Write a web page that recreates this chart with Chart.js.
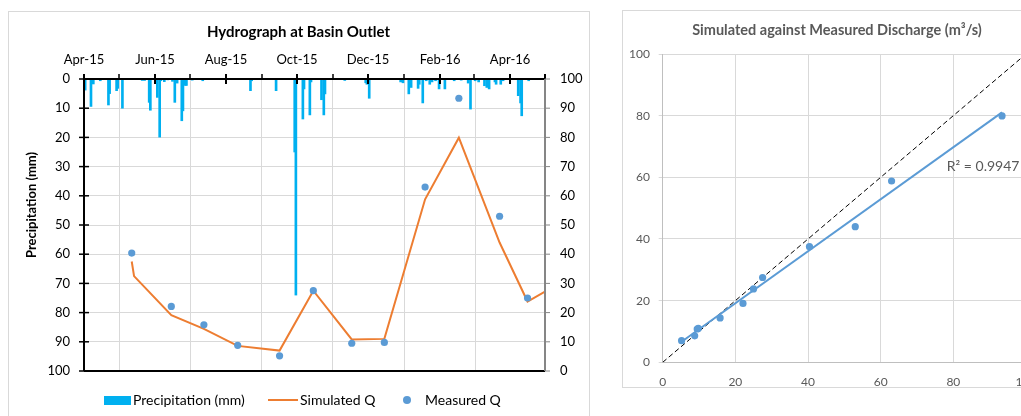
<!DOCTYPE html>
<html>
<head>
<meta charset="utf-8">
<script src="https://cdn.jsdelivr.net/npm/chart.js@4.4.1/dist/chart.umd.min.js"></script>
<style>
html,body{margin:0;padding:0;background:#fff;width:1021px;height:416px;overflow:hidden;font-family:Lato,sans-serif}
.box{position:absolute;border:1px solid #d9d9d9;box-sizing:border-box}
canvas{position:absolute}
.lg{position:absolute;font-size:14px;line-height:16px;color:#000;white-space:nowrap}
</style>
</head>
<body>
<div class="box" style="left:8px;top:11px;width:582px;height:440px"></div>
<div class="box" style="left:622px;top:10px;width:440px;height:378px"></div>
<canvas id="hydro" width="581" height="405" style="left:8px;top:11px"></canvas>
<canvas id="scat" width="430" height="377" style="left:622px;top:10px"></canvas>

<div style="position:absolute;left:104px;top:396px;width:27px;height:9px;background:#00B0F0"></div>
<div class="lg" style="left:133px;top:392px">Precipitation (mm)</div>
<div style="position:absolute;left:268px;top:399px;width:30px;height:2px;background:#ED7D31"></div>
<div class="lg" style="left:300px;top:392px">Simulated Q</div>
<div style="position:absolute;left:403px;top:396px;width:8px;height:8px;border-radius:50%;background:#5B9BD5"></div>
<div class="lg" style="left:425px;top:392px">Measured Q</div>

<script>
// daily rainfall (only rainy days)
const rainDates=['2015-04-02','2015-04-07','2015-04-08','2015-04-09','2015-04-15','2015-04-22','2015-04-23','2015-04-29','2015-04-30',
  '2015-05-04','2015-05-21','2015-05-23','2015-05-27','2015-05-28',
  '2015-06-03','2015-06-05','2015-06-06','2015-06-09','2015-06-12','2015-06-16','2015-06-18','2015-06-20','2015-06-24','2015-06-25','2015-06-27','2015-06-28',
  '2015-07-03','2015-07-12','2015-08-22','2015-08-23','2015-09-13','2015-09-29','2015-09-30',
  '2015-10-06','2015-10-07','2015-10-12','2015-10-13','2015-10-22','2015-10-24','2015-10-25',
  '2015-11-11','2015-11-29','2015-11-30','2015-12-02','2015-12-29','2015-12-31',
  '2016-01-05','2016-01-07','2016-01-13','2016-01-14','2016-01-17','2016-01-20','2016-01-23','2016-01-25','2016-01-28','2016-01-31',
  '2016-02-05','2016-02-13','2016-02-19','2016-02-25','2016-02-27',
  '2016-03-02','2016-03-05','2016-03-10','2016-03-12','2016-03-14','2016-03-19','2016-03-20','2016-03-24','2016-03-26',
  '2016-04-08','2016-04-10','2016-04-11','2016-04-17']
const rainMm=[3.8,9.4,1.4,1.7,0.6,8.9,5,4.0,3.2,
  10.0,0.5,0.5,8.0,10.7,
  6.3,19.9,0.6,0.9,0.3,0.8,8.0,1.4,14.3,10.9,2.2,2.2,
  0.4,0.6,4.0,0.6,4.0,25,74,
  13.7,3.4,12.3,1.0,7.1,12.3,5.1,
  0.5,1.3,1.8,6.6,1.0,1.3,
  5.1,2.9,3.2,1.8,8.2,0.6,1.8,1.0,0.6,3.4,
  3.4,0.6,0.4,1.4,10.3,
  0.6,1.0,2.3,2.9,3.4,1.0,1.8,1.8,0.6,
  5.7,8.2,12.6,0.6]

const simDates=['2015-05-12','2015-05-14','2015-06-15','2015-07-13','2015-08-11','2015-09-16','2015-10-15','2015-11-17','2015-12-15','2016-01-19','2016-02-17','2016-03-23','2016-04-16','2016-05-01']
const simQ=[37.5,32.5,19.1,14.4,8.6,7.0,27.5,10.8,11.0,58.8,79.9,44.0,23.8,27.2]

const measDates=['2015-05-12','2015-06-15','2015-07-13','2015-08-11','2015-09-16','2015-10-15','2015-11-17','2015-12-15','2016-01-19','2016-02-17','2016-03-23','2016-04-16']
const measQ=[40.4,22.1,15.8,8.8,5.2,27.5,9.5,9.8,63.0,93.4,53.0,25.0]

const majorDates=['2015-04-01','2015-06-01','2015-08-01','2015-10-01','2015-12-01','2016-02-01','2016-04-01']
const tickLabels=['Apr-15','Jun-15','Aug-15','Oct-15','Dec-15','Feb-16','Apr-16']
const minorDates=['2015-05-01','2015-07-01','2015-09-01','2015-11-01','2016-01-01','2016-03-01']
const endDate='2016-05-01'

const oneToOne=[0,100]
const r2Text='R\u00B2 = 0.9947'

Chart.defaults.font.family='Lato'
Chart.defaults.color='#000'

const t0=Date.UTC(2015,3,1)
function dayOf(s){
  const p=s.split('-')
  return (Date.UTC(+p[0],+p[1]-1,+p[2])-t0)/86400000
}

function seg(ctx,x1,y1,x2,y2){
  ctx.beginPath();ctx.moveTo(x1,y1);ctx.lineTo(x2,y2);ctx.stroke()
}

const hydroAxes={
  id:'hydroAxes',
  afterDatasetsDraw(chart){
    const ctx=chart.ctx,a=chart.chartArea,x=chart.scales.x,y=chart.scales.y,y2=chart.scales.y2
    ctx.save()
    ctx.strokeStyle='#000';ctx.lineWidth=2
    seg(ctx,a.left,a.top,a.right,a.top)
    seg(ctx,a.left,a.top,a.left,a.bottom)
    seg(ctx,a.left,a.bottom,a.right,a.bottom)
    majorDates.concat([endDate]).forEach(d=>{
      const px=Math.round(x.getPixelForValue(dayOf(d)))
      seg(ctx,px,a.top-5,px,a.top+5)
    })
    ctx.lineWidth=1.5
    minorDates.forEach(d=>{
      const px=Math.round(x.getPixelForValue(dayOf(d)))
      seg(ctx,px,a.top-5,px,a.top)
    })
    for(let v=0;v<=100;v+=10){
      const py=y.getPixelForValue(v)
      seg(ctx,a.left-5,py,a.left+5,py)
    }
    ctx.strokeStyle='#868686';ctx.lineWidth=2
    seg(ctx,a.right,a.top,a.right,a.bottom)
    ctx.lineWidth=1
    for(let v=0;v<=100;v+=10){
      const py=y2.getPixelForValue(v)
      seg(ctx,a.right,py,a.right+5,py)
    }
    // rotated y title
    ctx.fillStyle='#000'
    ctx.font='bold 13px Lato'
    ctx.textAlign='center';ctx.textBaseline='middle'
    ctx.translate(a.left-52,a.top+126)
    ctx.rotate(-Math.PI/2)
    ctx.fillText('Precipitation (mm)',0,0)
    ctx.restore()
  }
}

new Chart('hydro',{
  type:'bar',
  data:{
    datasets:[
      {type:'scatter',label:'Measured Q',yAxisID:'y2',order:0,
        data:measDates.map((d,i)=>({x:dayOf(d),y:measQ[i]})),
        backgroundColor:'#5B9BD5',borderColor:'#5B9BD5',pointRadius:3.6,pointBorderWidth:0},
      {type:'line',label:'Simulated Q',yAxisID:'y2',order:1,
        data:simDates.map((d,i)=>({x:dayOf(d),y:simQ[i]})),
        borderColor:'#ED7D31',borderWidth:2,pointRadius:0,tension:0,fill:false},
      {type:'bar',label:'Precipitation (mm)',yAxisID:'y',order:2,
        data:rainDates.map((d,i)=>({x:dayOf(d),y:rainMm[i]})),
        backgroundColor:'#00B0F0',barThickness:2}
    ]
  },
  options:{
    responsive:false,animation:false,
    layout:{padding:{left:0,right:0,top:0,bottom:45}},
    plugins:{
      legend:{display:false},tooltip:{enabled:false},
      title:{display:true,text:'Hydrograph at Basin Outlet',color:'#000',
        font:{size:15,weight:'bold'},padding:{top:11.7,bottom:8.9}}
    },
    scales:{
      x:{type:'linear',position:'top',min:0,max:dayOf(endDate),offset:false,
        afterBuildTicks:s=>{s.ticks=majorDates.map(d=>({value:dayOf(d)}))},
        ticks:{callback:(v,i)=>tickLabels[i],padding:11,maxRotation:0,autoSkip:false,font:{size:13}},
        grid:{color:'#d9d9d9',drawTicks:false},border:{display:false},
        afterFit:s=>{s.height=29.4}},
      y:{type:'linear',position:'left',reverse:true,min:0,max:100,
        ticks:{stepSize:10,padding:14,font:{size:13}},
        grid:{color:'#d9d9d9',drawTicks:false},border:{display:false},
        afterFit:s=>{s.width=76}},
      y2:{type:'linear',position:'right',min:0,max:100,
        ticks:{stepSize:10,padding:15,font:{size:13}},
        grid:{display:false,drawTicks:false},border:{display:false},
        afterFit:s=>{s.width=44}}
    }
  },
  plugins:[hydroAxes]
})

// measured vs simulated pairs
const pairs=measDates.map((d,i)=>({x:measQ[i],y:simQ[simDates.indexOf(d)]}))
let n=pairs.length,sx=0,sy=0,sxx=0,sxy=0
pairs.forEach(p=>{sx+=p.x;sy+=p.y;sxx+=p.x*p.x;sxy+=p.x*p.y})
const slope=(n*sxy-sx*sy)/(n*sxx-sx*sx)
const icpt=(sy-slope*sx)/n
const xs=pairs.map(p=>p.x)
const xMin=Math.min(...xs),xMax=Math.max(...xs)

const r2Label={
  id:'r2Label',
  afterDatasetsDraw(chart){
    const ctx=chart.ctx,x=chart.scales.x,y=chart.scales.y
    ctx.save()
    ctx.fillStyle='#595959'
    ctx.font='14px Lato'
    ctx.textAlign='left';ctx.textBaseline='middle'
    ctx.fillText(r2Text,x.getPixelForValue(78.2),y.getPixelForValue(63.6))
    ctx.restore()
  }
}

new Chart('scat',{
  type:'scatter',
  data:{
    datasets:[
      {type:'scatter',order:0,data:pairs,backgroundColor:'#5B9BD5',borderColor:'#5B9BD5',pointRadius:3.6,pointBorderWidth:0},
      {type:'line',order:1,data:[{x:xMin,y:icpt+slope*xMin},{x:xMax,y:icpt+slope*xMax}],
        borderColor:'#5B9BD5',borderWidth:2,pointRadius:0,fill:false},
      {type:'line',order:2,data:oneToOne.map(v=>({x:v,y:v})),
        borderColor:'#000',borderWidth:1,borderDash:[5,3],pointRadius:0,fill:false}
    ]
  },
  options:{
    responsive:false,animation:false,
    layout:{padding:{left:0,right:0,top:0,bottom:0}},
    plugins:{
      legend:{display:false},tooltip:{enabled:false},
      title:{display:true,text:'Simulated against Measured Discharge (m\u00B3/s)',color:'#595959',
        font:{size:14.5,weight:'bold'},padding:{top:11.3,bottom:15.3}}
    },
    scales:{
      x:{type:'linear',min:0,max:100,
        ticks:{stepSize:20,padding:12.2,color:'#595959',font:{size:12}},
        grid:{color:'#d9d9d9',drawTicks:false},border:{color:'#bfbfbf'},
        afterFit:s=>{s.height=24.7}},
      y:{type:'linear',min:0,max:100,
        ticks:{stepSize:20,padding:8.7,color:'#595959',font:{size:12}},
        grid:{color:'#d9d9d9',tickLength:4},border:{color:'#bfbfbf'},
        afterFit:s=>{s.width=40.7}},
      // empty right-hand box so the plot ends where the reference plot ends
      yr:{type:'linear',position:'right',ticks:{display:false},
        grid:{display:false,drawTicks:false},border:{display:false},
        afterFit:s=>{s.width=26}}
    }
  },
  plugins:[r2Label]
})
</script>
</body>
</html>
